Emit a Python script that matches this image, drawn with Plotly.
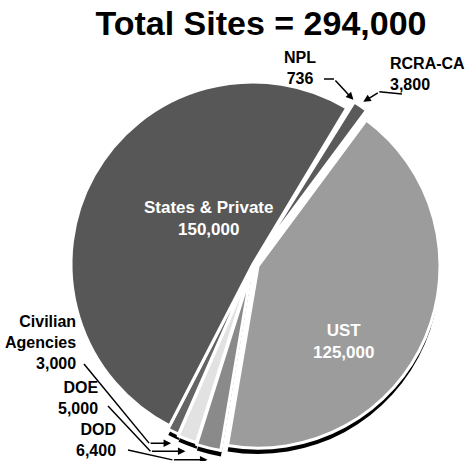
import math
import plotly.graph_objects as go

# ---------------- data ----------------
categories = ["NPL", "RCRA-CA", "UST", "DOD", "DOE", "Civilian Agencies", "States & Private"]
label_text = ["NPL", "RCRA-CA", "UST", "DOD", "DOE", "Civilian<br>Agencies", "States & Private"]
sites = [736, 3800, 125000, 6400, 5000, 3000, 150000]
title_text = "Total Sites = 294,000"

# ---------------- styles ----------------
colors = ["#5a5a5a", "#5a5a5a", "#9c9c9c", "#8a8a8a", "#e2e2e2", "#646464", "#575757"]
shadow_colors = ["rgba(0,0,0,0)", "rgba(0,0,0,0)", "#000000", "#000000", "#000000", "#000000",
                 "rgba(0,0,0,0)"]
pulls = [0.03, 0.05, 0.03, 0.04, 0.03, 0.02, 0.0]
ROTATION = 31

W, H = 472, 461
CX, CY, R = 253, 264, 182      # pie centre / radius in pixels
SHADOW = 7
FONT = "Liberation Sans, Arial, Helvetica, sans-serif"

maxpull = max(pulls)
half = R * (1 + maxpull)


def dom(cy):
    return dict(x=[(CX - half) / W, (CX + half) / W],
                y=[max(0, (H - cy - half) / H), (H - cy + half) / H])


def px(x, y):
    return x / W, 1 - y / H


fig = go.Figure()
fig.add_trace(go.Pie(
    labels=categories, values=sites, sort=False, direction="clockwise",
    rotation=ROTATION, pull=pulls, textinfo="none", hoverinfo="skip",
    marker=dict(colors=shadow_colors, line=dict(width=0)),
    domain=dom(CY + SHADOW), showlegend=False))
fig.add_trace(go.Pie(
    labels=categories, values=sites, sort=False, direction="clockwise",
    rotation=ROTATION, pull=pulls, textinfo="none",
    marker=dict(colors=colors, line=dict(color="white", width=3)),
    domain=dom(CY), showlegend=False))

# tip positions of slices, derived from data
total = sum(sites)
tips = {}
cum = 0
for name, v, p in zip(categories, sites, pulls):
    mid = math.radians(ROTATION + 360 * (cum + v / 2) / total)
    rr = R * (1 + p) + 5
    tips[name] = (CX + rr * math.sin(mid),
                  CY - rr * math.cos(mid) + (SHADOW if math.cos(mid) < 0 else 0))
    cum += v

annotations = []
shapes = []


def label(i, x, y, xanchor="center", align="center", color="black", size=16):
    tx, ty = px(x, y)
    annotations.append(dict(
        x=tx, y=ty, xref="paper", yref="paper", xanchor=xanchor, yanchor="middle",
        align=align, showarrow=False,
        text="<b>%s<br>%s</b>" % (label_text[i], f"{sites[i]:,}"),
        font=dict(family=FONT, size=size, color=color)))


def arrow(points, tip):
    if len(points) > 1:
        path = "M " + " L ".join("%f,%f" % px(*p) for p in points)
        shapes.append(dict(type="path", xref="paper", yref="paper", path=path,
                           line=dict(color="black", width=1.5)))
    bx, by = points[-1]
    tx, ty = px(*tip)
    annotations.append(dict(
        x=tx, y=ty, xref="paper", yref="paper", text="", showarrow=True,
        ax=bx - tip[0], ay=by - tip[1], arrowhead=2, arrowsize=1, arrowwidth=1.5,
        arrowcolor="black", standoff=0))


label(6, 208, 218, color="white", size=17)
label(2, 343, 341, color="white", size=17)
label(0, 300, 68)
label(1, 388, 74, xanchor="left", align="left")
label(5, 78, 342, xanchor="right", align="right")
label(4, 100, 398, xanchor="right", align="right")
label(3, 118, 440, xanchor="right", align="right")

t = tips["NPL"]
arrow([(324, 79), (334, 79)], t)
t = tips["RCRA-CA"]
arrow([(402, 94), (t[0] + 16, t[1] - 10)], t)
t = tips["Civilian Agencies"]
arrow([(84, 364), (t[0] - 22, t[1])], t)
t = tips["DOE"]
arrow([(108, 406), (t[0] - 35, t[1])], t)
t = tips["DOD"]
arrow([(128, 450), (t[0] - 35, t[1])], t)

fig.update_layout(
    width=W, height=H, margin=dict(l=0, r=0, t=0, b=0),
    paper_bgcolor="white", plot_bgcolor="white",
    title=dict(text="<b>%s</b>" % title_text, x=261 / W, xanchor="center",
               y=1 - 23 / H, yanchor="middle",
               font=dict(family=FONT, size=34, color="black")),
    annotations=annotations, shapes=shapes)

fig.write_html("out.html")
